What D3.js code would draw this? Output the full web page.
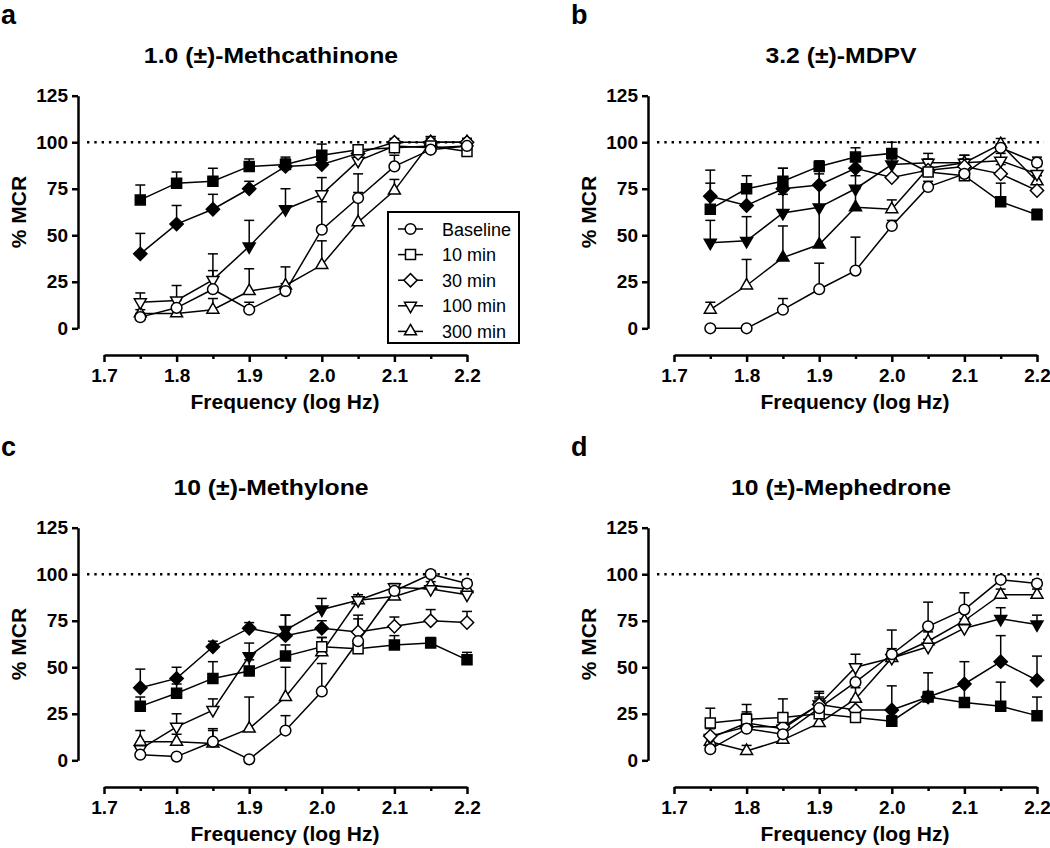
<!DOCTYPE html>
<html><head><meta charset="utf-8">
<script src="https://cdn.jsdelivr.net/npm/d3@7"></script>
<style>
body{margin:0;background:#fff}
svg{display:block}
text{font-family:"Liberation Sans",Arial,Helvetica,sans-serif}
</style>
</head><body>
<svg id="chart" width="1050" height="848"></svg>
<script>
// ---------------- data ----------------
const frequencies = [1.75, 1.8, 1.85, 1.9, 1.95, 2.0, 2.05, 2.1, 2.15, 2.2];
const seriesNames = ["Baseline", "10 min", "30 min", "100 min", "300 min"];
const xTicks = [1.7, 1.8, 1.9, 2.0, 2.1, 2.2];
const xMinorTicks = [1.75, 1.85, 1.95, 2.05, 2.15];
const yTicks = [0, 25, 50, 75, 100, 125];
const panelLetters = ["a", "b", "c", "d"];
const panelTitles = ["1.0 (±)-Methcathinone", "3.2 (±)-MDPV", "10 (±)-Methylone", "10 (±)-Mephedrone"];

// a: Methcathinone (mean % MCR, upper SEM, filled = 1)
const methcathinoneBaseline = [6, 11, 21, 10, 20, 53, 70, 87, 96, 98];
const methcathinoneBaselineSem = [2, 4, 10, 4, 4, 15, 13, 6, 3, 2];
const methcathinoneBaselineSig = [0, 0, 0, 0, 0, 0, 0, 0, 0, 0];
const methcathinone10 = [69, 78, 79, 87, 88, 93, 96, 97, 98, 95];
const methcathinone10Sem = [8, 6, 7, 4, 4, 6, 2, 2, 5, 2];
const methcathinone10Sig = [1, 1, 1, 1, 1, 1, 0, 0, 0, 0];
const methcathinone30 = [40, 56, 64, 75, 87, 88, 94, 100, 100, 100];
const methcathinone30Sem = [11, 10, 8, 4, 4, 4, 2, 2, 2, 2];
const methcathinone30Sig = [1, 1, 1, 1, 1, 1, 0, 0, 0, 0];
const methcathinone100 = [14, 15, 26, 44, 64, 72, 90, 98, 97, 98];
const methcathinone100Sem = [5, 8, 14, 14, 11, 9, 3, 2, 3, 2];
const methcathinone100Sig = [0, 0, 0, 1, 1, 0, 0, 0, 0, 0];
const methcathinone300 = [8, 8, 10, 20, 23, 34, 57, 74, 100, 100];
const methcathinone300Sem = [2, 3, 6, 12, 10, 13, 16, 6, 3, 2];
const methcathinone300Sig = [0, 0, 0, 0, 0, 0, 0, 0, 0, 0];

// b: MDPV
const mdpvBaseline = [0, 0, 10, 21, 31, 55, 76, 83, 97, 89];
const mdpvBaselineSem = [1, 1, 6, 14, 18, 3, 3, 3, 2, 3];
const mdpvBaselineSig = [0, 0, 0, 0, 0, 0, 0, 0, 0, 0];
const mdpv10 = [64, 75, 79, 87, 92, 94, 84, 82, 68, 61];
const mdpv10Sem = [14, 7, 7, 3, 5, 6, 6, 5, 10, 3];
const mdpv10Sig = [1, 1, 1, 1, 1, 1, 0, 0, 1, 1];
const mdpv30 = [71, 66, 75, 77, 86, 81, 85, 87, 83, 74];
const mdpv30Sem = [14, 8, 11, 6, 5, 10, 5, 4, 5, 4];
const mdpv30Sig = [1, 1, 1, 1, 1, 0, 0, 0, 0, 0];
const mdpv100 = [46, 47, 62, 65, 75, 88, 89, 89, 90, 83];
const mdpv100Sem = [12, 13, 10, 20, 7, 4, 5, 4, 4, 4];
const mdpv100Sig = [1, 1, 1, 1, 1, 1, 0, 0, 0, 0];
const mdpv300 = [10, 23, 38, 45, 65, 64, 86, 89, 99, 79];
const mdpv300Sem = [4, 14, 17, 32, 10, 5, 5, 4, 3, 3];
const mdpv300Sig = [0, 0, 1, 1, 1, 0, 0, 0, 0, 0];

// c: Methylone
const methyloneBaseline = [3, 2, 10, 0.5, 16, 37, 64, 91, 100, 95];
const methyloneBaselineSem = [1, 1, 7, 1, 8, 15, 12, 3, 2, 2];
const methyloneBaselineSig = [0, 0, 0, 0, 0, 0, 0, 0, 0, 0];
const methylone10 = [29, 36, 44, 48, 56, 61, 60, 62, 63, 54];
const methylone10Sem = [5, 5, 9, 6, 6, 5, 3, 5, 3, 4];
const methylone10Sig = [1, 1, 1, 1, 1, 0, 0, 1, 1, 1];
const methylone30 = [39, 44, 61, 71, 67, 71, 69, 72, 75, 74];
const methylone30Sem = [10, 6, 3, 3, 11, 4, 9, 5, 6, 6];
const methylone30Sig = [1, 1, 1, 1, 1, 1, 0, 0, 0, 0];
const methylone100 = [6, 18, 27, 56, 70, 81, 86, 93, 92, 89];
const methylone100Sem = [3, 7, 6, 7, 8, 6, 2, 2, 2, 2];
const methylone100Sig = [0, 0, 0, 1, 1, 1, 0, 0, 0, 0];
const methylone300 = [10, 10, 9, 17, 34, 58, 86, 88, 94, 92];
const methylone300Sem = [6, 4, 7, 17, 16, 8, 3, 3, 2, 2];
const methylone300Sig = [0, 0, 0, 0, 0, 0, 0, 0, 0, 0];

// d: Mephedrone
const mephedroneBaseline = [6, 17, 14, 28, 42, 57, 72, 81, 97, 95];
const mephedroneBaselineSem = [2, 6, 5, 6, 8, 13, 13, 9, 2, 2];
const mephedroneBaselineSig = [0, 0, 0, 0, 0, 0, 0, 0, 0, 0];
const mephedrone10 = [20, 22, 23, 25, 23, 21, 34, 31, 29, 24];
const mephedrone10Sem = [8, 8, 10, 8, 4, 3, 13, 11, 13, 10];
const mephedrone10Sig = [0, 0, 0, 0, 0, 1, 1, 1, 1, 1];
const mephedrone30 = [13, 18, 18, 30, 27, 27, 34, 41, 53, 43];
const mephedrone30Sem = [5, 7, 6, 6, 6, 13, 3, 12, 14, 13];
const mephedrone30Sig = [0, 0, 0, 0, 0, 1, 1, 1, 1, 1];
const mephedrone100 = [12, 20, 17, 30, 50, 55, 61, 71, 76, 73];
const mephedrone100Sem = [5, 6, 8, 7, 7, 5, 4, 5, 6, 5];
const mephedrone100Sig = [0, 0, 0, 0, 0, 0, 0, 0, 1, 1];
const mephedrone300 = [10, 5, 11, 20, 33, 55, 64, 75, 89, 89];
const mephedrone300Sem = [3, 3, 4, 5, 6, 4, 5, 5, 3, 3];
const mephedrone300Sig = [0, 0, 0, 0, 0, 0, 0, 0, 0, 0];

// ---------------- assembly ----------------
const panels = [
  { mean: [methcathinoneBaseline, methcathinone10, methcathinone30, methcathinone100, methcathinone300],
    sem: [methcathinoneBaselineSem, methcathinone10Sem, methcathinone30Sem, methcathinone100Sem, methcathinone300Sem],
    sig: [methcathinoneBaselineSig, methcathinone10Sig, methcathinone30Sig, methcathinone100Sig, methcathinone300Sig] },
  { mean: [mdpvBaseline, mdpv10, mdpv30, mdpv100, mdpv300],
    sem: [mdpvBaselineSem, mdpv10Sem, mdpv30Sem, mdpv100Sem, mdpv300Sem],
    sig: [mdpvBaselineSig, mdpv10Sig, mdpv30Sig, mdpv100Sig, mdpv300Sig] },
  { mean: [methyloneBaseline, methylone10, methylone30, methylone100, methylone300],
    sem: [methyloneBaselineSem, methylone10Sem, methylone30Sem, methylone100Sem, methylone300Sem],
    sig: [methyloneBaselineSig, methylone10Sig, methylone30Sig, methylone100Sig, methylone300Sig] },
  { mean: [mephedroneBaseline, mephedrone10, mephedrone30, mephedrone100, mephedrone300],
    sem: [mephedroneBaselineSem, mephedrone10Sem, mephedrone30Sem, mephedrone100Sem, mephedrone300Sem],
    sig: [mephedroneBaselineSig, mephedrone10Sig, mephedrone30Sig, mephedrone100Sig, mephedrone300Sig] }
];

const offsets = [[0, 0], [570, 0], [0, 432], [570, 432]];

// marker shapes
const shapes = [
  { type: d3.symbolCircle, size: 90, rot: 0 },
  { type: d3.symbolSquare, size: 100, rot: 0 },
  { type: d3.symbolSquare, size: 88, rot: 45 },
  { type: d3.symbolTriangle, size: 62, rot: 180 },
  { type: d3.symbolTriangle, size: 62, rot: 0 }
];
function symbolPath(i) { return d3.symbol().type(shapes[i].type).size(shapes[i].size)(); }

const svg = d3.select("#chart");
const FONT = '"Liberation Sans",Arial,Helvetica,sans-serif';

panels.forEach((p, pi) => {
  const [ox, oy] = offsets[pi];
  const g = svg.append("g").attr("transform", `translate(${ox},${oy})`);
  const x = d3.scaleLinear().domain([1.7, 2.2]).range([104, 467]);
  const y = d3.scaleLinear().domain([0, 125]).range([328.3, 95.7]);

  // panel letter
  g.append("text").attr("x", 1).attr("y", 24)
    .attr("font-size", 27).attr("font-weight", "bold").text(panelLetters[pi]);

  // title
  const t = g.append("text").attr("x", 271).attr("y", 63).attr("text-anchor", "middle")
    .attr("font-size", 22).attr("font-weight", "bold").text(panelTitles[pi]);
  const natural = t.node().getComputedTextLength();
  t.attr("textLength", natural * 1.125).attr("lengthAdjust", "spacingAndGlyphs");

  // y axis
  const ya = g.append("g").attr("transform", "translate(78,0)")
    .call(d3.axisLeft(y).tickValues(yTicks).tickSize(6).tickSizeOuter(0).tickPadding(4));
  ya.selectAll("path,line").attr("stroke", "#000").attr("stroke-width", 2.5);
  ya.selectAll("text").attr("font-size", 19).attr("font-weight", "bold")
    .attr("font-family", FONT).attr("fill", "#000");

  // x axis (major)
  const xa = g.append("g").attr("transform", "translate(0,355)")
    .call(d3.axisBottom(x).tickValues(xTicks).tickFormat(d3.format(".1f"))
      .tickSize(7).tickSizeOuter(0).tickPadding(7));
  xa.selectAll("path,line").attr("stroke", "#000").attr("stroke-width", 2.5);
  xa.selectAll("text").attr("font-size", 19).attr("font-weight", "bold")
    .attr("font-family", FONT).attr("fill", "#000");
  // x axis (minor)
  const xm = g.append("g").attr("transform", "translate(0,355)")
    .call(d3.axisBottom(x).tickValues(xMinorTicks).tickFormat("").tickSize(4).tickSizeOuter(0));
  xm.select(".domain").remove();
  xm.selectAll("line").attr("stroke", "#000").attr("stroke-width", 2.5);

  // axis labels
  g.append("text").attr("transform", "translate(26,212) rotate(-90)")
    .attr("text-anchor", "middle").attr("font-size", 21).attr("font-weight", "bold").text("% MCR");
  g.append("text").attr("x", 285).attr("y", 409).attr("text-anchor", "middle")
    .attr("font-size", 21).attr("font-weight", "bold").text("Frequency (log Hz)");

  // 100% reference line
  g.append("line").attr("x1", 87).attr("x2", 474).attr("y1", y(100)).attr("y2", y(100))
    .attr("stroke", "#000").attr("stroke-width", 2.6).attr("stroke-dasharray", "2.4 4.9");

  // error bars + lines
  const line = d3.line().x((d, i) => x(frequencies[i])).y(d => y(d));
  p.mean.forEach((vals, si) => {
    const sg = g.append("g");
    vals.forEach((v, i) => {
      const cx = x(frequencies[i]), top = y(v + p.sem[si][i]);
      sg.append("line").attr("x1", cx).attr("x2", cx).attr("y1", y(v)).attr("y2", top)
        .attr("stroke", "#000").attr("stroke-width", 1.5);
      sg.append("line").attr("x1", cx - 5).attr("x2", cx + 5).attr("y1", top).attr("y2", top)
        .attr("stroke", "#000").attr("stroke-width", 1.5);
    });
    sg.append("path").attr("d", line(vals)).attr("fill", "none")
      .attr("stroke", "#000").attr("stroke-width", 1.5);
  });

  // markers (baseline drawn last, on top)
  [4, 3, 2, 1, 0].forEach(si => {
    const vals = p.mean[si];
    g.append("g").selectAll("path").data(vals).join("path")
      .attr("d", symbolPath(si))
      .attr("transform", (d, i) => `translate(${x(frequencies[i])},${y(d)}) rotate(${shapes[si].rot})`)
      .attr("fill", (d, i) => p.sig[si][i] ? "#000" : "#fff")
      .attr("stroke", "#000").attr("stroke-width", 1.5);
  });

  // legend (panel a only)
  if (pi === 0) {
    const lg = g.append("g");
    lg.append("rect").attr("x", 388).attr("y", 212).attr("width", 131).attr("height", 131)
      .attr("fill", "#fff").attr("stroke", "#000").attr("stroke-width", 2);
    seriesNames.forEach((name, si) => {
      const cy = 229 + si * 25.6;
      lg.append("line").attr("x1", 398).attr("x2", 423).attr("y1", cy).attr("y2", cy)
        .attr("stroke", "#000").attr("stroke-width", 1.5);
      lg.append("path").attr("d", symbolPath(si))
        .attr("transform", `translate(410.5,${cy}) rotate(${shapes[si].rot})`)
        .attr("fill", "#fff").attr("stroke", "#000").attr("stroke-width", 1.5);
      lg.append("text").attr("x", 442).attr("y", cy + 6.5).attr("font-size", 18).text(name);
    });
  }
});
</script>
</body></html>
